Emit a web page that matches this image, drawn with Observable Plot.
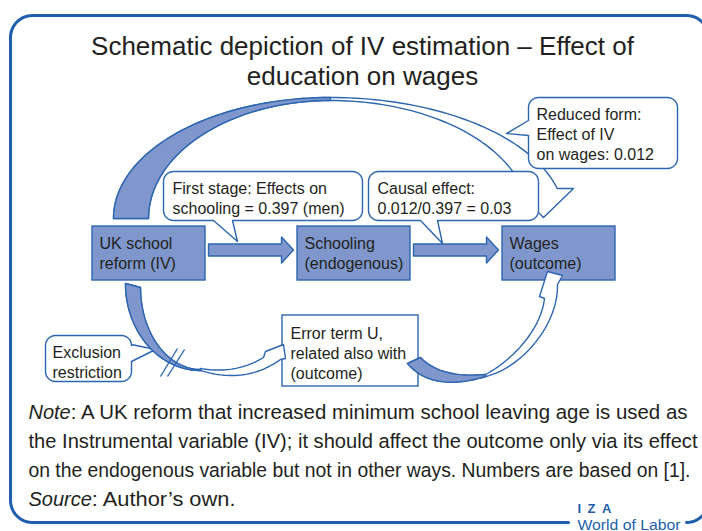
<!DOCTYPE html>
<html>
<head>
<meta charset="utf-8">
<script src="https://cdn.jsdelivr.net/npm/d3@7"></script>
<script src="https://cdn.jsdelivr.net/npm/@observablehq/plot@0.6"></script>
<style>
  html, body { margin: 0; padding: 0; background: #fff; }
  #chart svg { display: block; }
</style>
</head>
<body>
<div id="chart"></div>
<script>
// ---------------- data (texts & values) ----------------
const titleLines = ["Schematic depiction of IV estimation – Effect of", "education on wages"];
const nodeLines = [["UK school", "reform (IV)"], ["Schooling", "(endogenous)"], ["Wages", "(outcome)"]];
const edges = [[0, 1], [1, 2]];
const firstStageCoef = "0.397";
const reducedFormCoef = "0.012";
const causalEffect = "0.03";
const calloutLines = [
  ["First stage: Effects on", `schooling = ${firstStageCoef} (men)`],
  ["Causal effect:", `${reducedFormCoef}/${firstStageCoef} = ${causalEffect}`],
  ["Reduced form:", "Effect of IV", `on wages: ${reducedFormCoef}`],
  ["Exclusion", "restriction"]
];
const errorLines = ["Error term U,", "related also with", "(outcome)"];
const noteLabel = "Note";
const noteLines = [
  ": A UK reform that increased minimum school leaving age is used as",
  "the Instrumental variable (IV); it should affect the outcome only via its effect",
  "on the endogenous variable but not in other ways. Numbers are based on [1]."
];
const sourceLabel = "Source";
const sourceText = ": Author’s own.";
const logoLines = ["I\u2002Z\u2002A", "World of Labor"];

// ---------------- layout & style ----------------
const W = 702, H = 531;
const FONT = "'Liberation Sans', Arial, Helvetica, sans-serif";
const INK = "#231f20";
const BLUE = "#2d66b0";
const FILL = "#7f97cc";
const FRAME = "#1d5fac";

const nodeBoxes = [
  {x0: 92, y0: 226, x1: 205, y1: 280},
  {x0: 297, y0: 226, x1: 410, y1: 280},
  {x0: 502, y0: 226, x1: 615, y1: 280}
];
const calloutBoxes = [
  {x0: 163, y0: 171, x1: 362, y1: 220, ptr: {side: "bottom", a: 213, b: 232, tx: 237, ty: 241}},
  {x0: 368, y0: 171, x1: 538, y1: 220, ptr: {side: "bottom", a: 420, b: 437, tx: 442, ty: 243}},
  {x0: 528, y0: 97, x1: 677, y1: 168, ptr: {side: "left", a: 120, b: 135, tx: 506, ty: 133}},
  {x0: 45, y0: 335, x1: 131, y1: 381, ptr: {side: "right", a: 344, b: 361, tx: 155, ty: 349}}
];
const errorBox = {x0: 282, y0: 315, x1: 418, y1: 386};

// ---------------- geometry helpers ----------------
const ell = (cx, cy, rx, ry, a0, a1, n = 48) =>
  d3.range(n + 1).map(i => { const a = a0 + (a1 - a0) * i / n; return [cx + rx * Math.cos(a), cy - ry * Math.sin(a)]; });
const quad = (p0, c, p1, n = 30) =>
  d3.range(n + 1).map(i => { const t = i / n, u = 1 - t;
    return [u*u*p0[0] + 2*u*t*c[0] + t*t*p1[0], u*u*p0[1] + 2*u*t*c[1] + t*t*p1[1]]; });
const cubic = (p0, c1, c2, p1, n = 30) =>
  d3.range(n + 1).map(i => { const t = i / n, u = 1 - t;
    return [0, 1].map(k => u*u*u*p0[k] + 3*u*u*t*c1[k] + 3*u*t*t*c2[k] + t*t*t*p1[k]); });
const rev = a => a.slice().reverse();
const close = a => a.concat([a[0]]);

function callout(b, r) {
  const p = b.ptr, pts = [];
  const arc = (cx, cy, t0, t1) => { for (let i = 0; i <= 8; i++) { const t = t0 + (t1 - t0) * i / 8; pts.push([cx + r * Math.cos(t), cy + r * Math.sin(t)]); } };
  arc(b.x1 - r, b.y0 + r, -Math.PI / 2, 0);
  if (p.side === "right") pts.push([b.x1, p.a], [p.tx, p.ty], [b.x1, p.b]);
  arc(b.x1 - r, b.y1 - r, 0, Math.PI / 2);
  if (p.side === "bottom") pts.push([p.b, b.y1], [p.tx, p.ty], [p.a, b.y1]);
  arc(b.x0 + r, b.y1 - r, Math.PI / 2, Math.PI);
  if (p.side === "left") pts.push([b.x0, p.b], [p.tx, p.ty], [b.x0, p.a]);
  arc(b.x0 + r, b.y0 + r, Math.PI, 1.5 * Math.PI);
  return close(pts);
}
function frame(x0, y0, x1, y1, r) {
  const pts = [[568, y1]];
  const arc = (cx, cy, t0, t1) => { for (let i = 0; i <= 12; i++) { const t = t0 + (t1 - t0) * i / 12; pts.push([cx + r * Math.cos(t), cy + r * Math.sin(t)]); } };
  arc(x0 + r, y1 - r, Math.PI / 2, Math.PI);
  arc(x0 + r, y0 + r, Math.PI, 1.5 * Math.PI);
  arc(x1 - r, y0 + r, -Math.PI / 2, 0);
  arc(x1 - r, y1 - r, 0, Math.PI / 2);
  return pts;
}
function blockArrow(xs, xt, cy) {
  const xh = xt - 12;
  return close([[xs, cy - 6], [xh, cy - 6], [xh, cy - 13], [xt, cy], [xh, cy + 13], [xh, cy + 6], [xs, cy + 6]]);
}

// big arc: IV -> wages (reduced form)
const bigOuterL = ell(330, 218, 217, 121, Math.PI, Math.PI / 2);
const bigOuterR = ell(330, 218, 234, 121, Math.PI / 2, 0.2507);
const bigInnerR = ell(330, 218, 198.7, 118, 0.1531, Math.PI / 2);
const bigInnerL = ell(330, 218, 182, 118, Math.PI / 2, Math.PI);
const bigWhole = close([...bigOuterL, ...bigOuterR, [573, 188], [543, 217], [526, 200], ...bigInnerR, ...bigInnerL]);
const bigFill = close([...bigOuterL, ...bigInnerL]);

// IV -> error term (exclusion restriction)
const blLeft = ell(200, 283, 75, 87, Math.PI, 1.5 * Math.PI);
const blRight = ell(200, 287, 60, 82, Math.PI, 1.5 * Math.PI);
const blLower = quad([200, 370], [245, 384], [280, 359]);
const blUpper = quad([200, 368], [235, 374], [263, 357]);
const blWhole = close([...blLeft, ...blLower, [285, 358], [283, 344], [265, 351], ...rev(blUpper), ...rev(blRight)]);
const blFill = close([...blLeft, ...rev(blRight)]);

// error term -> wages
const brLowerF = quad([407, 363], [432, 392], [485, 376]);
const brUpperF = quad([420, 357], [440, 378], [485, 374]);
const brOuter = cubic([485, 376], [520, 368], [558, 325], [557, 284]);
const brInner = cubic([485, 374], [508, 362], [540, 332], [544, 298]);
const brWhole = close([...brLowerF, ...brOuter, [562, 275], [547, 271], [539, 296], ...rev(brInner), ...rev(brUpperF)]);
const brFill = close([...brLowerF, ...rev(brUpperF)]);

const hashMarks = [{x1: 160, y1: 376, x2: 177, y2: 348}, {x1: 167, y1: 376, x2: 184, y2: 349}];

const shape = (pts, fill, stroke, sw = 1.4) =>
  Plot.line(pts, {x: d => d[0], y: d => d[1], fill, stroke, strokeWidth: sw, strokeLinejoin: "round", curve: "linear"});

// ---------------- text rows ----------------
const DIAG = 16, NOTE = 19.3;
const textRows = [];
const addLines = (lines, x, y0, gap, size, opts = {}) =>
  lines.forEach((t, i) => textRows.push({x, y: y0 + i * gap, text: t, size, ...opts}));

addLines(titleLines, 362, 54, 30, 26, {anchor: "middle"});
nodeLines.forEach((lines, i) => addLines(lines, nodeBoxes[i].x0 + 7, 248, 20, DIAG));
const calloutTextPos = [[172, 193], [377, 193], [536, 119], [52, 357]];
calloutLines.forEach((lines, i) => addLines(lines, calloutTextPos[i][0], calloutTextPos[i][1], 20, DIAG));
addLines(errorLines, errorBox.x0 + 8, 338, 20, DIAG);

const ctx = document.createElement("canvas").getContext("2d");
ctx.font = `italic 20px ${FONT}`;
const noteW = ctx.measureText(noteLabel).width;
const sourceW = ctx.measureText(sourceLabel).width;
const L = 28;
const noteRows = [
  {x: L + noteW, y: 418, text: noteLines[0], size: NOTE, len: 687 - L - noteW},
  {x: L, y: 447, text: noteLines[1], size: NOTE, len: 669},
  {x: L, y: 476, text: noteLines[2], size: NOTE, len: 662},
  {x: L + sourceW, y: 505, text: sourceText, size: NOTE, len: 235 - L - sourceW}
];
const italicRows = [
  {x: L, y: 418, text: noteLabel, size: 20},
  {x: L, y: 505, text: sourceLabel, size: 20}
];
const logoRows = [{x: 577, y: 529, text: logoLines[1], size: 14, len: 103}];

const textMark = (rows, o = {}) => Plot.text(rows, {
  x: "x", y: "y", text: "text", fontSize: "size", textAnchor: o.anchor || "start",
  lineAnchor: "bottom", fill: o.fill || INK, fontWeight: o.weight, fontStyle: o.style, fontFamily: FONT
});

const plot = Plot.plot({
  width: W, height: H, margin: 0,
  x: {domain: [0, W], range: [0, W], axis: null},
  y: {domain: [0, H], range: [0, H], axis: null},
  style: {background: "#fff", fontFamily: FONT},
  marks: [
    shape(frame(10, 15, 708, 522, 22), "none", FRAME, 3),
    shape(bigWhole, "#fff", BLUE),
    shape(bigFill, FILL, BLUE),
    ...calloutBoxes.map(b => shape(callout(b, 10), "#fff", BLUE)),
    Plot.rect([errorBox], {x1: "x0", x2: "x1", y1: "y0", y2: "y1", fill: "#fff", stroke: BLUE, strokeWidth: 1.4}),
    Plot.rect(nodeBoxes, {x1: "x0", x2: "x1", y1: "y0", y2: "y1", fill: FILL, stroke: BLUE, strokeWidth: 1.4}),
    ...edges.map(([a, b]) => shape(blockArrow(nodeBoxes[a].x1 + 3, nodeBoxes[b].x0 - 4, 249.5), FILL, BLUE)),
    shape(blWhole, "#fff", BLUE),
    shape(blFill, FILL, BLUE),
    shape(brWhole, "#fff", BLUE),
    shape(brFill, FILL, BLUE),
    Plot.link(hashMarks, {x1: "x1", y1: "y1", x2: "x2", y2: "y2", stroke: BLUE, strokeWidth: 1.4}),
    textMark(textRows.filter(d => d.anchor !== "middle")),
    textMark(textRows.filter(d => d.anchor === "middle"), {anchor: "middle"}),
    textMark(noteRows),
    textMark(italicRows, {style: "italic"}),
    textMark([{x: 577, y: 512, text: logoLines[0], size: 13}], {fill: FRAME, weight: "bold"}),
    textMark(logoRows, {fill: FRAME})
  ]
});
document.getElementById("chart").appendChild(plot);

// fit the long caption lines to the reference widths
[...noteRows, ...logoRows].forEach(r => {
  plot.querySelectorAll("text").forEach(t => {
    if (t.textContent === r.text) {
      t.setAttribute("textLength", r.len);
      t.setAttribute("lengthAdjust", "spacingAndGlyphs");
    }
  });
});
</script>
</body>
</html>
